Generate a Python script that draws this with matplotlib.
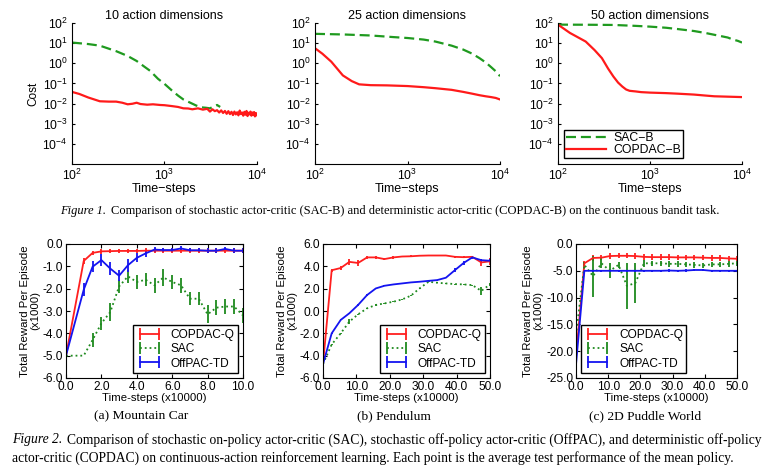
import matplotlib
matplotlib.use('Agg')
import matplotlib.pyplot as plt
from matplotlib.ticker import FormatStrFormatter, NullLocator

plt.rcParams['font.family'] = ['Liberation Sans', 'DejaVu Sans']
plt.rcParams['mathtext.fontset'] = 'custom'
plt.rcParams['mathtext.rm'] = 'Liberation Sans'
plt.rcParams['axes.unicode_minus'] = False

W, H = 772, 476

# ---- Figure 1 data: continuous bandit (cost vs time-steps) ----
titles_top = ['10 action dimensions', '25 action dimensions', '50 action dimensions']

sac10_x = [100, 150, 200, 300, 400, 500, 600, 700, 850, 1000, 1200, 1400, 1600, 1900,
           2200, 2500, 2800, 3100, 3400, 3700, 4000]
sac10_y = [10.7, 9.0, 7.5, 4.0, 2.3, 1.3, 0.7, 0.42, 0.17, 0.095, 0.045, 0.025, 0.016, 0.011,
           0.008, 0.0065, 0.0062, 0.0058, 0.0072, 0.0085, 0.0068]
cop10_x = [100, 120, 150, 200, 250, 300, 350, 400, 450, 500, 550, 650, 750, 900, 1000, 1200,
           1400, 1600, 1800, 2000, 2300, 2600, 2900, 3100, 3300, 3500, 3700, 3900, 4100, 4300,
           4500, 4700, 4900, 5100, 5300, 5500, 5700, 5900, 6100, 6300, 6500, 6700, 6900, 7100,
           7300, 7500, 7700, 7900, 8100, 8300, 8500, 8700, 8900, 9100, 9300, 9500, 9700, 9900,
           10000]
cop10_y = [0.038, 0.03, 0.02, 0.013, 0.0125, 0.0125, 0.011, 0.0092, 0.0098, 0.011, 0.0095,
           0.0088, 0.0092, 0.0085, 0.0083, 0.0075, 0.0068, 0.0058, 0.0057, 0.0052, 0.0058,
           0.0050, 0.0055, 0.0040, 0.0052, 0.0042, 0.0047, 0.0036, 0.0046, 0.0034, 0.0043,
           0.0031, 0.0042, 0.0030, 0.0039, 0.0027, 0.0040, 0.0029, 0.0037, 0.0026, 0.0045,
           0.0030, 0.0036, 0.0025, 0.0039, 0.0028, 0.0043, 0.0024, 0.0035, 0.0029, 0.0040,
           0.0025, 0.0036, 0.0027, 0.0038, 0.0023, 0.0034, 0.0026, 0.0030]

sac25_x = [100, 200, 400, 700, 1000, 1500, 2000, 3000, 4000, 5000, 6000, 7000, 8000, 9000, 10000]
sac25_y = [29, 27, 24, 20, 18, 15, 12, 7.5, 4.8, 3.0, 1.8, 1.1, 0.65, 0.4, 0.23]
cop25_x = [100, 120, 150, 200, 250, 300, 400, 600, 1000, 1500, 2000, 3000, 4000, 5000, 6000,
           7000, 8000, 9000, 10000]
cop25_y = [5.6, 3.0, 1.2, 0.25, 0.13, 0.09, 0.082, 0.08, 0.074, 0.065, 0.058, 0.048, 0.038,
           0.031, 0.026, 0.023, 0.021, 0.019, 0.016]

sac50_x = [100, 200, 400, 700, 1000, 1500, 2000, 3000, 4000, 5000, 6000, 7000, 8000, 9000, 10000]
sac50_y = [83, 82, 80, 72, 66, 58, 50, 40, 32, 26, 22, 19, 15, 13, 10.7]
cop50_x = [100, 135, 200, 250, 300, 350, 400, 450, 500, 550, 600, 700, 800, 1000, 1500, 2000,
           3000, 4000, 5000, 7000, 10000]
cop50_y = [83, 32, 12, 4.5, 1.8, 0.55, 0.22, 0.11, 0.07, 0.05, 0.043, 0.04, 0.037, 0.035,
           0.033, 0.031, 0.028, 0.025, 0.023, 0.022, 0.021]

top_series = [(sac10_x, sac10_y, cop10_x, cop10_y),
              (sac25_x, sac25_y, cop25_x, cop25_y),
              (sac50_x, sac50_y, cop50_x, cop50_y)]

# ---- Figure 2 data: RL benchmarks (reward x1000) ----
mc_x = [0, 1.0, 1.5, 2.0, 2.5, 3.0, 3.5, 4.0, 4.5, 5.0, 5.5, 6.0, 6.5, 7.0, 7.5, 8.0, 8.5, 9.0, 9.5, 10.0]
mc_cop = [-5.0, -0.76, -0.4, -0.33, -0.32, -0.31, -0.31, -0.31, -0.3, -0.3, -0.3, -0.3, -0.3,
          -0.3, -0.3, -0.3, -0.3, -0.3, -0.3, -0.3]
mc_cop_err = [0, 0.12, 0.1, 0.1, 0.1, 0.1, 0.1, 0.1, 0.1, 0.1, 0.1, 0.1, 0.1, 0.1, 0.1, 0.1,
              0.1, 0.1, 0.1, 0.1]
mc_sac = [-5.0, -5.0, -4.3, -3.55, -3.05, -1.9, -1.45, -1.7, -1.6, -1.85, -1.5, -1.7, -1.85,
          -2.45, -2.45, -3.15, -2.85, -2.8, -2.8, -3.2]
mc_sac_err = [0, 0, 0.3, 0.3, 0.4, 0.3, 0.3, 0.3, 0.3, 0.35, 0.4, 0.3, 0.35, 0.3, 0.3, 0.4,
              0.35, 0.35, 0.35, 0.35]
mc_off = [-5.0, -2.05, -1.02, -0.72, -1.1, -1.42, -0.95, -0.62, -0.42, -0.25, -0.27, -0.27,
          -0.2, -0.28, -0.28, -0.3, -0.3, -0.22, -0.3, -0.3]
mc_off_err = [0, 0.3, 0.25, 0.25, 0.3, 0.25, 0.3, 0.2, 0.15, 0.12, 0.1, 0.1, 0.1, 0.1, 0.1,
              0.1, 0.1, 0.1, 0.1, 0.1]

pd_x = [0, 2.6, 5.3, 7.9, 10.5, 13.2, 15.8, 18.4, 21.1, 23.7, 26.3, 28.9, 31.6, 34.2, 36.8,
        39.5, 42.1, 44.7, 47.4, 50.0]
pd_cop = [-4.75, 3.65, 3.85, 4.4, 4.3, 4.8, 4.8, 4.65, 4.8, 4.88, 4.9, 4.95, 4.97, 4.97, 4.97,
          4.85, 4.82, 4.85, 4.35, 4.45]
pd_cop_err = [0, 0.12, 0.15, 0.3, 0.25, 0.12, 0.1, 0.12, 0.1, 0.08, 0.08, 0.05, 0.05, 0.05,
              0.05, 0.1, 0.1, 0.1, 0.35, 0.3]
pd_sac = [-4.75, -3.0, -2.0, -0.95, -0.3, 0.24, 0.54, 0.68, 0.83, 1.04, 1.37, 2.02, 2.62, 2.53,
          2.47, 2.41, 2.38, 2.32, 1.8, 2.38]
pd_sac_err = [0, 0.05, 0.05, 0.2, 0.05, 0.05, 0.05, 0.05, 0.05, 0.05, 0.05, 0.05, 0.05, 0.05,
              0.05, 0.05, 0.05, 0.05, 0.35, 0.1]
pd_off = [-4.75, -2.0, -0.8, -0.2, 0.54, 1.43, 2.02, 2.26, 2.38, 2.47, 2.56, 2.62, 2.7, 2.77,
          2.98, 3.66, 4.3, 4.8, 4.55, 4.5]
pd_off_err = [0, 0.05, 0.05, 0.05, 0.05, 0.05, 0.05, 0.05, 0.05, 0.05, 0.05, 0.05, 0.05, 0.05,
              0.05, 0.15, 0.15, 0.15, 0.15, 0.15]

pw_x = pd_x
pw_cop = [-21.0, -3.6, -2.6, -2.55, -2.25, -2.2, -2.2, -2.25, -2.4, -2.45, -2.45, -2.45, -2.5,
          -2.5, -2.5, -2.55, -2.6, -2.6, -2.7, -2.75]
pw_cop_err = [0, 0.5, 0.5, 0.5, 0.5, 0.5, 0.5, 0.5, 0.5, 0.5, 0.5, 0.5, 0.5, 0.5, 0.5, 0.5,
              0.5, 0.5, 0.5, 0.5]
pw_sac = [-17.0, -3.9, -6.0, -3.6, -5.0, -3.9, -7.8, -7.3, -3.6, -3.6, -3.6, -3.7, -3.7, -3.8,
          -3.9, -4.0, -3.8, -3.8, -3.7, -3.6]
pw_sac_err = [5.4, 0.6, 3.8, 0.9, 1.4, 0.6, 4.3, 3.8, 0.6, 0.5, 0.5, 0.5, 0.5, 0.5, 0.5, 0.5,
              0.5, 0.5, 0.5, 0.5]
pw_off = [-22.5, -5.0, -5.0, -5.0, -5.0, -5.0, -5.0, -5.0, -5.0, -5.0, -5.0, -4.95, -5.0, -4.95,
          -4.85, -4.85, -5.0, -5.0, -5.0, -5.0]
pw_off_err = [0, 0.2, 0.2, 0.2, 0.2, 0.2, 0.2, 0.2, 0.2, 0.2, 0.2, 0.2, 0.2, 0.2, 0.2, 0.2,
              0.2, 0.2, 0.2, 0.2]

bottom_series = [
    (mc_x, mc_cop, mc_cop_err, mc_sac, mc_sac_err, mc_off, mc_off_err),
    (pd_x, pd_cop, pd_cop_err, pd_sac, pd_sac_err, pd_off, pd_off_err),
    (pw_x, pw_cop, pw_cop_err, pw_sac, pw_sac_err, pw_off, pw_off_err),
]
bottom_ylims = [(-6, 0), (-6, 6), (-25, 0)]
bottom_yticks = [[-6, -5, -4, -3, -2, -1, 0], [-6, -4, -2, 0, 2, 4, 6], [-25, -20, -15, -10, -5, 0]]
bottom_xlims = [(0, 10), (0, 50), (0, 50)]
bottom_xticks = [[0, 2, 4, 6, 8, 10], [0, 10, 20, 30, 40, 50], [0, 10, 20, 30, 40, 50]]
bottom_legend_loc = ['lower right', 'lower right', 'lower left']
subcaptions = ['(a) Mountain Car', '(b) Pendulum', '(c) 2D Puddle World']
subcaption_x = [141, 394, 645]


def px_axes(fig, left, top, right, bottom):
    return fig.add_axes([left / W, 1 - bottom / H, (right - left) / W, (bottom - top) / H])


fig = plt.figure(figsize=(W / 100, H / 100), dpi=100)

top_boxes = [(72, 23, 257, 164), (315, 23, 500, 164), (558, 23, 742, 164)]
green_top = '#1f9a1f'
for i, box in enumerate(top_boxes):
    ax = px_axes(fig, *box)
    sx, sy, cx, cy = top_series[i]
    ax.plot(sx, sy, color=green_top, lw=1.6, dashes=(4.5, 2.2), label='SAC\u2212B')
    ax.plot(cx, cy, color='#ff1a1a', lw=1.6, label='COPDAC\u2212B')
    ax.set_xscale('log')
    ax.set_yscale('log')
    ax.set_xlim(1e2, 1e4)
    ax.set_ylim(1e-5, 1e2)
    ax.set_xticks([1e2, 1e3, 1e4])
    ax.set_yticks([1e-4, 1e-3, 1e-2, 1e-1, 1e0, 1e1, 1e2])
    ax.xaxis.set_minor_locator(NullLocator())
    ax.yaxis.set_minor_locator(NullLocator())
    ax.spines['top'].set_visible(False)
    ax.spines['right'].set_visible(False)
    ax.tick_params(direction='in', length=2.5, labelsize=8.8, pad=3)
    ax.set_title(titles_top[i], fontsize=9, pad=3)
    ax.set_xlabel('Time\u2212steps', fontsize=9, labelpad=0)
    if i == 0:
        ax.set_ylabel('Cost', fontsize=8.5, labelpad=2)
    if i == 2:
        ax.legend(loc='lower left', fontsize=8.8, handlelength=3.3, frameon=True,
                  fancybox=False, edgecolor='black', framealpha=1, borderpad=0.15,
                  labelspacing=0.0, borderaxespad=0.5, handletextpad=0.6)

bottom_boxes = [(66, 244, 243, 378), (323, 244, 490, 378), (576, 244, 737, 378)]
for i, box in enumerate(bottom_boxes):
    ax = px_axes(fig, *box)
    x, cop, cop_e, sac, sac_e, off, off_e = bottom_series[i]
    ax.errorbar(x, cop, yerr=cop_e, color='#ff1f1f', lw=1.3, elinewidth=1.3, capsize=0,
                label='COPDAC-Q')
    ax.errorbar(x, sac, yerr=sac_e, color='#1e8a1e', lw=1.3, ls=':', elinewidth=1.3,
                capsize=0, label='SAC')
    ax.errorbar(x, off, yerr=off_e, color='#1414f0', lw=1.3, elinewidth=1.3, capsize=0,
                label='OffPAC-TD')
    ax.set_xlim(*bottom_xlims[i])
    ax.set_ylim(*bottom_ylims[i])
    ax.set_xticks(bottom_xticks[i])
    ax.set_yticks(bottom_yticks[i])
    ax.xaxis.set_major_formatter(FormatStrFormatter('%.1f'))
    ax.yaxis.set_major_formatter(FormatStrFormatter('%.1f'))
    ax.tick_params(direction='in', length=3, labelsize=8.6, pad=2, top=True, right=True)
    for sp in ax.spines.values():
        sp.set_linewidth(0.8)
    ax.set_xlabel('Time-steps (x10000)', fontsize=8.2, labelpad=0)
    ax.set_ylabel('Total Reward Per Episode\n(x1000)', fontsize=8.2, labelpad=2,
                  linespacing=1.0)
    ax.legend(loc=bottom_legend_loc[i], fontsize=8.6, numpoints=2, handlelength=2.2,
              fancybox=False, edgecolor='black', framealpha=1, borderpad=0.3,
              labelspacing=0.2, borderaxespad=0.4, handletextpad=0.7)
    fig.text(subcaption_x[i] / W, 1 - 416 / H, subcaptions[i], ha='center', va='center',
             family='Liberation Serif', fontsize=9.7)


def caption(x, y, lead, rest, size):
    t = fig.text(x / W, 1 - y / H, lead, family='Liberation Serif', style='italic',
                 fontsize=size, va='center')
    r = fig.canvas.get_renderer()
    bb = t.get_window_extent(r)
    fig.text((bb.x1 + 5) / W, 1 - y / H, rest, family='Liberation Serif', fontsize=size,
             va='center')


caption(60, 211, 'Figure 1.', 'Comparison of stochastic actor-critic (SAC-B) and deterministic '
        'actor-critic (COPDAC-B) on the continuous bandit task.', 9.0)
caption(12, 440, 'Figure 2.', 'Comparison of stochastic on-policy actor-critic (SAC), stochastic '
        'off-policy actor-critic (OffPAC), and deterministic off-policy', 9.8)
fig.text(12 / W, 1 - 458 / H, 'actor-critic (COPDAC) on continuous-action reinforcement '
         'learning. Each point is the average test performance of the mean policy.',
         family='Liberation Serif', fontsize=9.8, va='center')

fig.savefig('out.png', dpi=100)
